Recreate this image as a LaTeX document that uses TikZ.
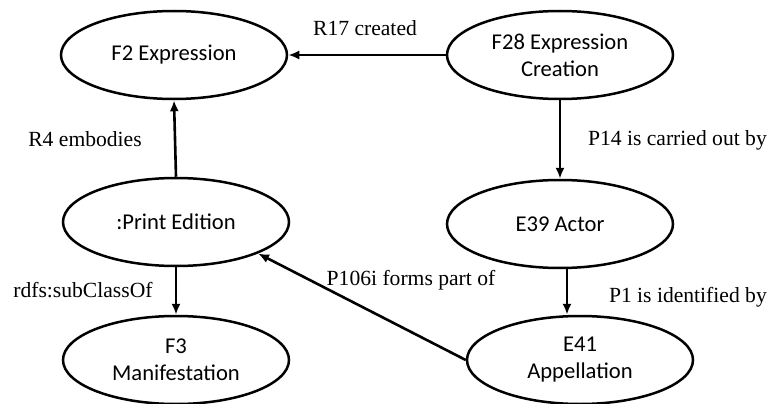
\documentclass[tikz,border=0pt]{standalone}
\usepackage{fontspec}
\setmainfont{Liberation Serif}
\newfontfamily\nodefont{Carlito}
\usetikzlibrary{shapes.geometric,arrows.meta}
\tikzset{
  cls/.style={ellipse, draw, line width=2.5pt, minimum width=226pt, minimum height=88pt,
    inner sep=0pt, align=center, font=\nodefont\fontsize{22.6}{27}\selectfont},
  rel/.style={draw, line width=2.6pt, -{Latex[length=11pt,width=9pt]}},
  lbl/.style={inner sep=0pt, font=\fontsize{21.6}{26}\selectfont}
}
\begin{document}
\begin{tikzpicture}[x=1pt,y=-1pt]
\useasboundingbox (0,0) rectangle (771,404);
\node[cls] (F2) at (174,55) {F2 Expression};
\node[cls] (F28) at (560,55) {F28 Expression\\Creation};
\node[cls] (PE) at (176,222) {:Print Edition};
\node[cls] (F3) at (176,360) {F3\\Manifestation};
\node[cls] (E39) at (560,224) {E39 Actor};
\node[cls] (E41) at (580,360) {E41\\Appellation};
\draw[rel] (F28.west) -- (F2.east);
\draw[rel] (PE.north) -- (F2.south);
\draw[rel] (F28.south) -- (E39.north);
\draw[rel] (PE.south) -- (F3.north);
\draw[rel] ([xshift=7pt]E39.south) -- ([xshift=-13pt]E41.north);
\draw[rel] (E41.west) -- (PE.-21);
\node[lbl] (lR17) at (365,28) {R17 created};
\node[lbl] (lR4) at (85,139) {R4 embodies};
\node[lbl, anchor=east] (lP14) at (767,140) {P14 is carried out by};
\node[lbl] (lsub) at (83,290) {rdfs:subClassOf};
\node[lbl, anchor=east] (lP1) at (767,297) {P1 is identified by};
\node[lbl] (lP106) at (411,280) {P106i forms part of};
\end{tikzpicture}
\end{document}
